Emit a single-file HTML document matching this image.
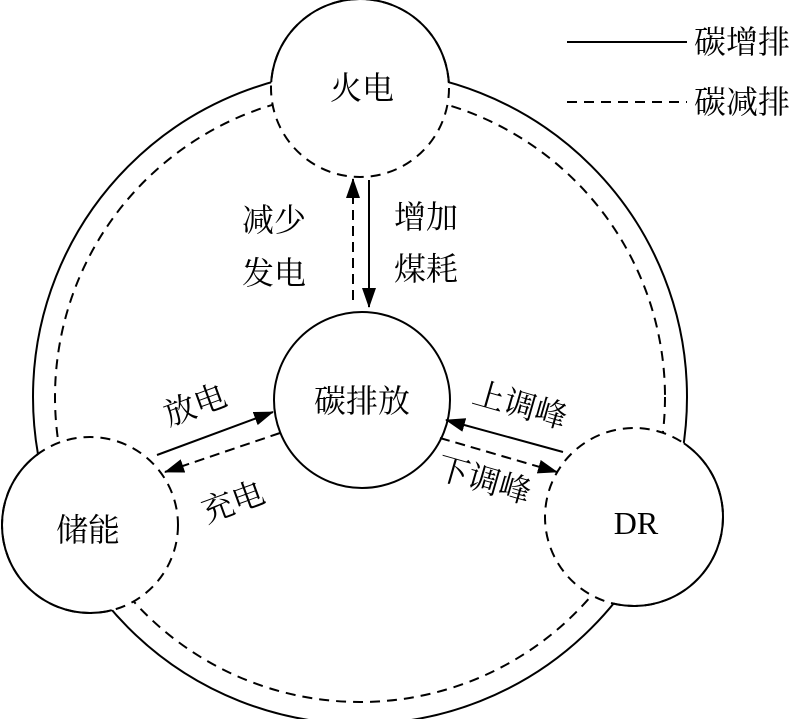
<!DOCTYPE html>
<html><head><meta charset="utf-8"><style>
html,body{margin:0;padding:0;background:#fff}
svg text{font-family:"Liberation Serif","Noto Serif CJK SC","Noto Sans CJK SC",serif;font-size:32px;fill:#000}
</style></head><body>
<svg width="800" height="719" viewBox="0 0 800 719" xmlns="http://www.w3.org/2000/svg">
<defs>
<mask id="out"><rect width="800" height="719" fill="#fff"/><circle cx="360" cy="397" r="327" fill="#000"/></mask>
<marker id="ah2" markerWidth="20" markerHeight="14" refX="19" refY="7" orient="auto" markerUnits="userSpaceOnUse" viewBox="0 0 20 14"><path d="M0,0L20,7L0,14z" fill="#000"/></marker>
</defs>
<g fill="none" stroke="#000" stroke-width="2">
<circle cx="360" cy="397" r="327"/>
<circle cx="360" cy="397" r="305" stroke-dasharray="10,7"/>
</g>
<g fill="#fff" stroke="#000" stroke-width="2" stroke-dasharray="10,7">
<circle cx="360" cy="88" r="89"/>
<circle cx="90" cy="525" r="88"/>
<circle cx="634" cy="517" r="89"/>
</g>
<g fill="none" stroke="#000" stroke-width="2" mask="url(#out)">
<circle cx="360" cy="88" r="89"/>
<circle cx="90" cy="525" r="88"/>
<circle cx="634" cy="517" r="89"/>
</g>
<circle cx="362" cy="400" r="88" fill="#fff" stroke="#000" stroke-width="2"/>
<g stroke="#000" stroke-width="2" fill="none">
<line x1="353" y1="300" x2="353" y2="179" stroke-dasharray="10,6" marker-end="url(#ah2)"/>
<line x1="369" y1="180" x2="369" y2="307" marker-end="url(#ah2)"/>
<line x1="157" y1="455" x2="273" y2="412" marker-end="url(#ah2)"/>
<line x1="280" y1="433" x2="165" y2="472" stroke-dasharray="10,6" marker-end="url(#ah2)"/>
<line x1="563" y1="452" x2="446" y2="420" marker-end="url(#ah2)"/>
<line x1="440" y1="438" x2="557" y2="472" stroke-dasharray="10,6" marker-end="url(#ah2)"/>
<line x1="567" y1="42" x2="687" y2="42"/>
<line x1="567" y1="102" x2="687" y2="102" stroke-dasharray="10,7"/>
</g>
<text x="362" y="99" text-anchor="middle">火电</text>
<text x="362" y="412" text-anchor="middle">碳排放</text>
<text x="88" y="541" text-anchor="middle">储能</text>
<text x="636" y="534" text-anchor="middle">DR</text>
<text x="242" y="231">减少</text>
<text x="242" y="284">发电</text>
<text x="394" y="228">增加</text>
<text x="394" y="280">煤耗</text>
<text x="195" y="416" text-anchor="middle" transform="rotate(-20 195 405)">放电</text>
<text x="233" y="513" text-anchor="middle" transform="rotate(-20 233 502)">充电</text>
<text x="520" y="416" text-anchor="middle" transform="rotate(16 520 405)">上调峰</text>
<text x="484" y="491" text-anchor="middle" transform="rotate(16 484 480)">下调峰</text>
<text x="694" y="53">碳增排</text>
<text x="694" y="113">碳减排</text>
</svg>
</body></html>
